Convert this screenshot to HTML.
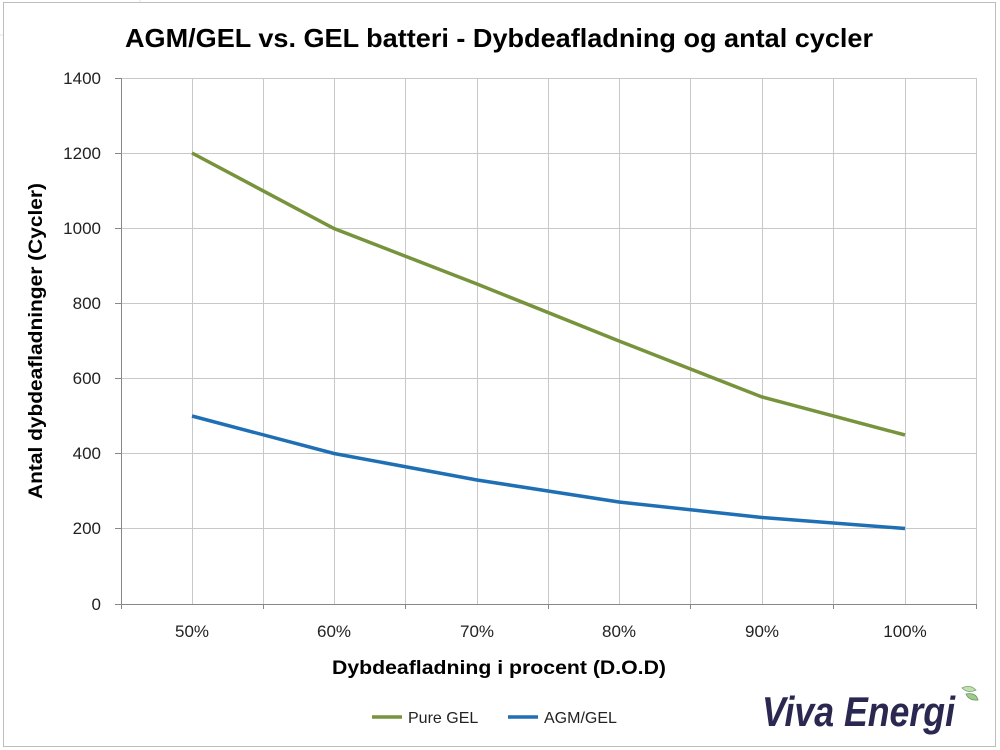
<!DOCTYPE html><html><head><style>body{margin:0;background:#fff}svg{display:block}</style></head><body>
<svg width="1000" height="750" xmlns="http://www.w3.org/2000/svg" font-family="'Liberation Sans',sans-serif">
<rect width="1000" height="750" fill="#fff"/>
<g stroke="#e4e4e4" stroke-width="1"><line x1="0" y1="35" x2="3" y2="35"/><line x1="140" y1="0" x2="140" y2="2"/></g>
<rect x="3.5" y="2.5" width="992" height="744" fill="#fff" stroke="#bdbdbd"/>
<text x="499" y="47" text-anchor="middle" font-size="26" font-weight="bold" fill="#000" textLength="748" lengthAdjust="spacingAndGlyphs">AGM/GEL vs. GEL batteri - Dybdeafladning og antal cycler</text>
<g stroke="#c8c8c8" stroke-width="1">
<line x1="121" y1="78.5" x2="977" y2="78.5"/><line x1="121" y1="153.5" x2="977" y2="153.5"/><line x1="121" y1="228.5" x2="977" y2="228.5"/><line x1="121" y1="303.5" x2="977" y2="303.5"/><line x1="121" y1="378.5" x2="977" y2="378.5"/><line x1="121" y1="453.5" x2="977" y2="453.5"/><line x1="121" y1="528.5" x2="977" y2="528.5"/>
<line x1="192.5" y1="78" x2="192.5" y2="604"/><line x1="263.5" y1="78" x2="263.5" y2="604"/><line x1="334.5" y1="78" x2="334.5" y2="604"/><line x1="405.5" y1="78" x2="405.5" y2="604"/><line x1="477.5" y1="78" x2="477.5" y2="604"/><line x1="548.5" y1="78" x2="548.5" y2="604"/><line x1="619.5" y1="78" x2="619.5" y2="604"/><line x1="690.5" y1="78" x2="690.5" y2="604"/><line x1="762.5" y1="78" x2="762.5" y2="604"/><line x1="833.5" y1="78" x2="833.5" y2="604"/><line x1="905.5" y1="78" x2="905.5" y2="604"/><line x1="976.5" y1="78" x2="976.5" y2="604"/>
</g>
<g stroke="#888" stroke-width="1">
<line x1="121.5" y1="78" x2="121.5" y2="609"/><line x1="115" y1="604.5" x2="977" y2="604.5"/>
<line x1="115" y1="78.5" x2="121" y2="78.5"/><line x1="115" y1="153.5" x2="121" y2="153.5"/><line x1="115" y1="228.5" x2="121" y2="228.5"/><line x1="115" y1="303.5" x2="121" y2="303.5"/><line x1="115" y1="378.5" x2="121" y2="378.5"/><line x1="115" y1="453.5" x2="121" y2="453.5"/><line x1="115" y1="528.5" x2="121" y2="528.5"/>
<line x1="263.5" y1="604" x2="263.5" y2="609"/><line x1="405.5" y1="604" x2="405.5" y2="609"/><line x1="548.5" y1="604" x2="548.5" y2="609"/><line x1="690.5" y1="604" x2="690.5" y2="609"/><line x1="833.5" y1="604" x2="833.5" y2="609"/><line x1="976.5" y1="604" x2="976.5" y2="609"/>
</g>
<g font-size="17" fill="#222" text-anchor="end">
<text x="101" y="84">1400</text><text x="101" y="159">1200</text><text x="101" y="234">1000</text><text x="101" y="309">800</text><text x="101" y="384">600</text><text x="101" y="459">400</text><text x="101" y="534">200</text><text x="101" y="610">0</text>
</g>
<g font-size="17" fill="#222" text-anchor="middle">
<text x="192" y="637">50%</text><text x="334" y="637">60%</text><text x="477" y="637">70%</text><text x="619" y="637">80%</text><text x="762" y="637">90%</text><text x="905" y="637">100%</text>
</g>
<text x="499" y="674" text-anchor="middle" font-size="19" font-weight="bold" textLength="334" lengthAdjust="spacingAndGlyphs">Dybdeafladning i procent (D.O.D)</text>
<text transform="translate(42,341) rotate(-90)" text-anchor="middle" font-size="19" font-weight="bold" textLength="316" lengthAdjust="spacingAndGlyphs">Antal dybdeafladninger (Cycler)</text>
<polyline fill="none" stroke="#77933c" stroke-width="3.5" points="192,153 334,228.5 477,284 619,341 762,397 905,435"/>
<polyline fill="none" stroke="#1f6fb5" stroke-width="3.5" points="192,416 334,453.5 477,480 619,502 762,517.5 905,528.5"/>
<line x1="372" y1="717" x2="402" y2="717" stroke="#77933c" stroke-width="3.5"/>
<text x="408" y="723" font-size="16" fill="#222">Pure GEL</text>
<line x1="508" y1="717" x2="538" y2="717" stroke="#1f6fb5" stroke-width="3.5"/>
<text x="544" y="723" font-size="16" fill="#222">AGM/GEL</text>
<text x="762" y="726" font-size="42" font-style="italic" font-weight="bold" fill="#2a2850" textLength="193" lengthAdjust="spacingAndGlyphs">Viva Energi</text>
<path d="M962 688 q8 -4 14 2 q-8 4 -14 -2z" fill="#bfe0b0" stroke="#7aa070" stroke-width="0.8"/>
<path d="M966 694 q10 -2 12 6 q-9 1 -12 -6z" fill="#9ccc88" stroke="#6a9060" stroke-width="0.8"/>
</svg>
</body></html>
